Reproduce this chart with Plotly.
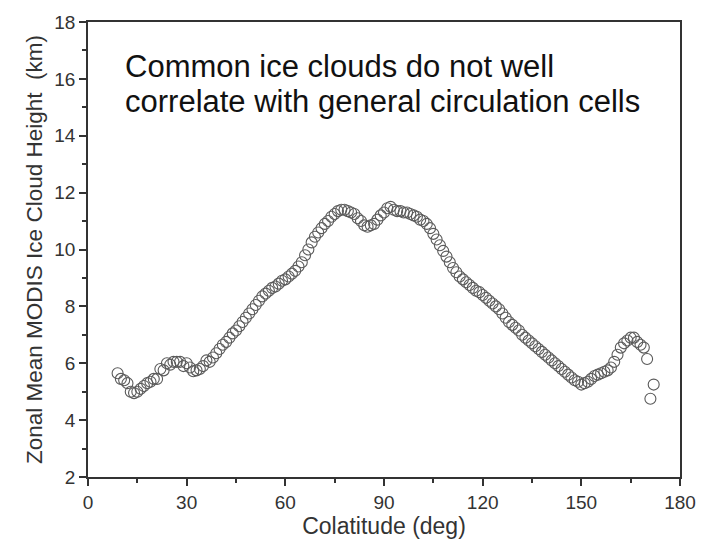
import plotly.graph_objects as go

colatitude = list(range(9, 173))
height_km = [
    5.65, 5.45, 5.4, 5.3, 5.0, 4.95, 5.0, 5.1, 5.2, 5.3,          # 9-18
    5.35, 5.45, 5.45, 5.8, 5.75, 6.0, 5.95, 6.05, 6.05, 6.05,     # 19-28
    5.9, 6.0, 5.85, 5.72, 5.75, 5.8, 5.9, 6.1, 6.05, 6.2,         # 29-38
    6.35, 6.5, 6.65, 6.75, 6.9, 7.05, 7.15, 7.3, 7.45, 7.6,       # 39-48
    7.75, 7.9, 8.05, 8.2, 8.35, 8.45, 8.55, 8.65, 8.7, 8.8,       # 49-58
    8.9, 8.95, 9.05, 9.15, 9.25, 9.4, 9.55, 9.8, 10.0, 10.25,     # 59-68
    10.45, 10.6, 10.75, 10.9, 11.0, 11.15, 11.25, 11.35, 11.4, 11.4,  # 69-78
    11.35, 11.3, 11.25, 11.1, 11.0, 10.85, 10.8, 10.85, 10.9, 11.05,  # 79-88
    11.2, 11.3, 11.45, 11.5, 11.4, 11.35, 11.35, 11.3, 11.3, 11.25,   # 89-98
    11.2, 11.15, 11.05, 11.0, 10.9, 10.75, 10.55, 10.35, 10.15, 9.95, # 99-108
    9.75, 9.55, 9.35, 9.2, 9.05, 8.95, 8.85, 8.75, 8.65, 8.55,    # 109-118
    8.5, 8.4, 8.3, 8.2, 8.1, 8.0, 7.9, 7.75, 7.6, 7.45,           # 119-128
    7.35, 7.25, 7.15, 7.0, 6.9, 6.8, 6.7, 6.6, 6.5, 6.4,          # 129-138
    6.3, 6.2, 6.1, 6.0, 5.9, 5.8, 5.7, 5.6, 5.5, 5.4,             # 139-148
    5.35, 5.25, 5.3, 5.35, 5.45, 5.55, 5.6, 5.65, 5.7, 5.75,      # 149-158
    5.85, 6.05, 6.3, 6.55, 6.7, 6.8, 6.9, 6.9, 6.75, 6.65,        # 159-168
    6.55, 6.15, 4.75, 5.25,                                       # 169-172
]

x_ticks = [0, 30, 60, 90, 120, 150, 180]
y_ticks = [2, 4, 6, 8, 10, 12, 14, 16, 18]
note_lines = ["Common ice clouds do not well", "correlate with general circulation cells"]

FONT = "Liberation Sans, Arial, sans-serif"

fig = go.Figure()
fig.add_trace(go.Scatter(
    x=colatitude, y=height_km, mode="markers",
    marker=dict(symbol="circle-open", size=11, color="#5a5a5a", line=dict(width=1.1, color="#5a5a5a")),
    showlegend=False,
))

axis_common = dict(
    showgrid=False, zeroline=False, showline=True, linecolor="#333333", linewidth=1.6,
    mirror=True, ticks="outside", ticklen=7, tickwidth=1.5, tickcolor="#333333",
    tickfont=dict(family=FONT, size=19, color="#333333"),
)

fig.update_xaxes(
    range=[0, 180], tickvals=x_ticks, ticktext=[str(v) for v in x_ticks],
    minor=dict(dtick=15, ticks="outside", ticklen=4, tickwidth=1.5, tickcolor="#333333"),
    title=dict(text="Colatitude (deg)", font=dict(family=FONT, size=23, color="#333333"), standoff=2),
    **axis_common,
)
fig.update_yaxes(
    range=[2, 18], tickvals=y_ticks, ticktext=[str(v) for v in y_ticks],
    minor=dict(dtick=1, ticks="outside", ticklen=4, tickwidth=1.5, tickcolor="#333333"),
    title=dict(text="Zonal Mean MODIS Ice Cloud Height  (km)", font=dict(family=FONT, size=22.5, color="#333333"), standoff=5),
    **axis_common,
)

for line, ypos in zip(note_lines, [0.9025, 0.8245]):
    fig.add_annotation(
        text=line, xref="paper", yref="paper", x=0.059, y=ypos,
        xanchor="left", yanchor="middle", showarrow=False, align="left",
        font=dict(family=FONT, size=31, color="#111111"),
    )

fig.update_layout(
    width=709, height=550,
    margin=dict(l=88, r=29, t=15, b=73),
    paper_bgcolor="white", plot_bgcolor="white",
)

fig.write_html("out.html")
